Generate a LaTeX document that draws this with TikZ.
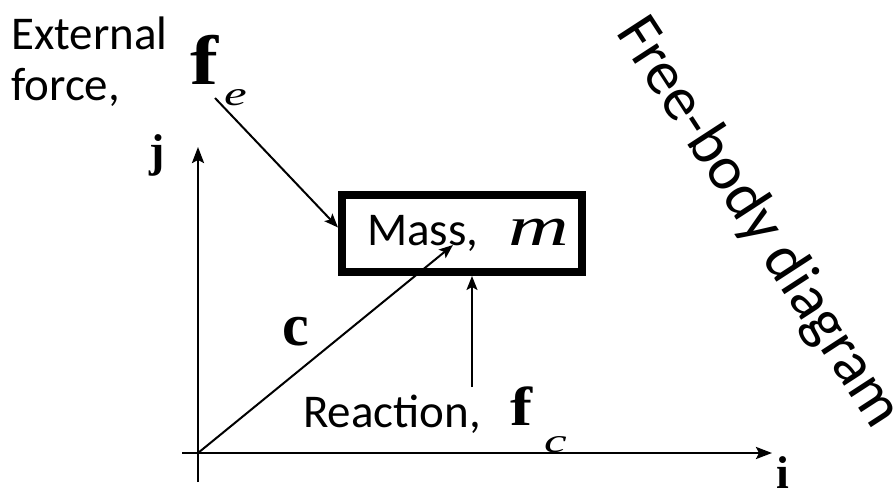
\documentclass[tikz,border=0pt]{standalone}
\usepackage{fontspec}
\usepackage{graphicx}
\setmainfont{Carlito}
\newfontfamily\tms{Liberation Serif}
\usetikzlibrary{arrows.meta,positioning,calc}
\newcommand\subl[2]{\lower#1pt\hbox{\scalebox{1.5}[1]{\fontsize{34}{36}\selectfont\tms\mdseries\itshape #2}}}
\newcommand\fvec[1]{\scalebox{1.2}[1]{\fontsize{#1}{#1}\selectfont\tms\bfseries f}}
\tikzset{
  lbl/.style={inner sep=0pt, font=\fontsize{47}{51}\selectfont},
  vecl/.style={inner sep=0pt, font=\fontsize{46}{50}\selectfont\tms\bfseries},
  massbox/.style={draw, line width=8pt, minimum width=240pt, minimum height=77pt, inner sep=0pt, font=\fontsize{47}{51}\selectfont},
  axis/.style={line width=2.5pt, -{Stealth[length=16pt,width=12pt,inset=3pt]}},
  arr/.style={line width=2pt, -{Stealth[length=14pt,width=11pt,inset=3pt]}},
}
\begin{document}
\begin{tikzpicture}[x=1pt,y=-1pt]
  \useasboundingbox (0,0) rectangle (896,490);
  % axes
  \coordinate (o) at (198,453);
  \coordinate (ybot) at (198,482);
  \coordinate (ytop) at (198,147);
  \coordinate (xleft) at (182,453);
  \coordinate (xright) at (772,453);
  \draw[axis] (ybot) -- (ytop);
  \draw[axis] (xleft) -- (xright);
  \node[vecl] (jlab) at (157,155) {j};
  \node[vecl, anchor=base] (ilab) at (783,488) {i};
  % the mass
  \node[massbox] (mass) at (462,233.5) {\hspace*{12pt}Mass,\hspace{30pt}\scalebox{1.5}[1]{\fontsize{56}{60}\selectfont\tms\itshape m}};
  % external force
  \node[lbl, anchor=base west] (ext) at (11,49) {External};
  \node[lbl, anchor=base west] (frc) at (11,100) {force,};
  \node[vecl, anchor=base west] (fe) at (190,84) {\fvec{70}\hspace{6pt}\subl{21}{e}};
  \coordinate (fetail) at (215,98);
  \draw[arr] (fetail) -- ($(mass.west)+(0,-6)$);
  % position vector
  \coordinate (cend) at (453,245);
  \draw[arr] (o) -- (cend);
  \node[vecl, font=\fontsize{60}{66}\selectfont\tms\bfseries] (clab) at (296,332) {c};
  % reaction
  \node[lbl, anchor=base west] (rxn) at (303,427) {Reaction,};
  \node[vecl, anchor=base west] (fc) at (510,425) {\fvec{55}\hspace{12pt}\subl{27}{c}};
  \coordinate (rtail) at (472,387);
  \draw[arr] (rtail) -- (rtail |- mass.south);
  \node[lbl, font=\fontsize{62}{66}\selectfont, rotate=-57] (fbd) at (758,223) {Free-body diagram};
\end{tikzpicture}
\end{document}
